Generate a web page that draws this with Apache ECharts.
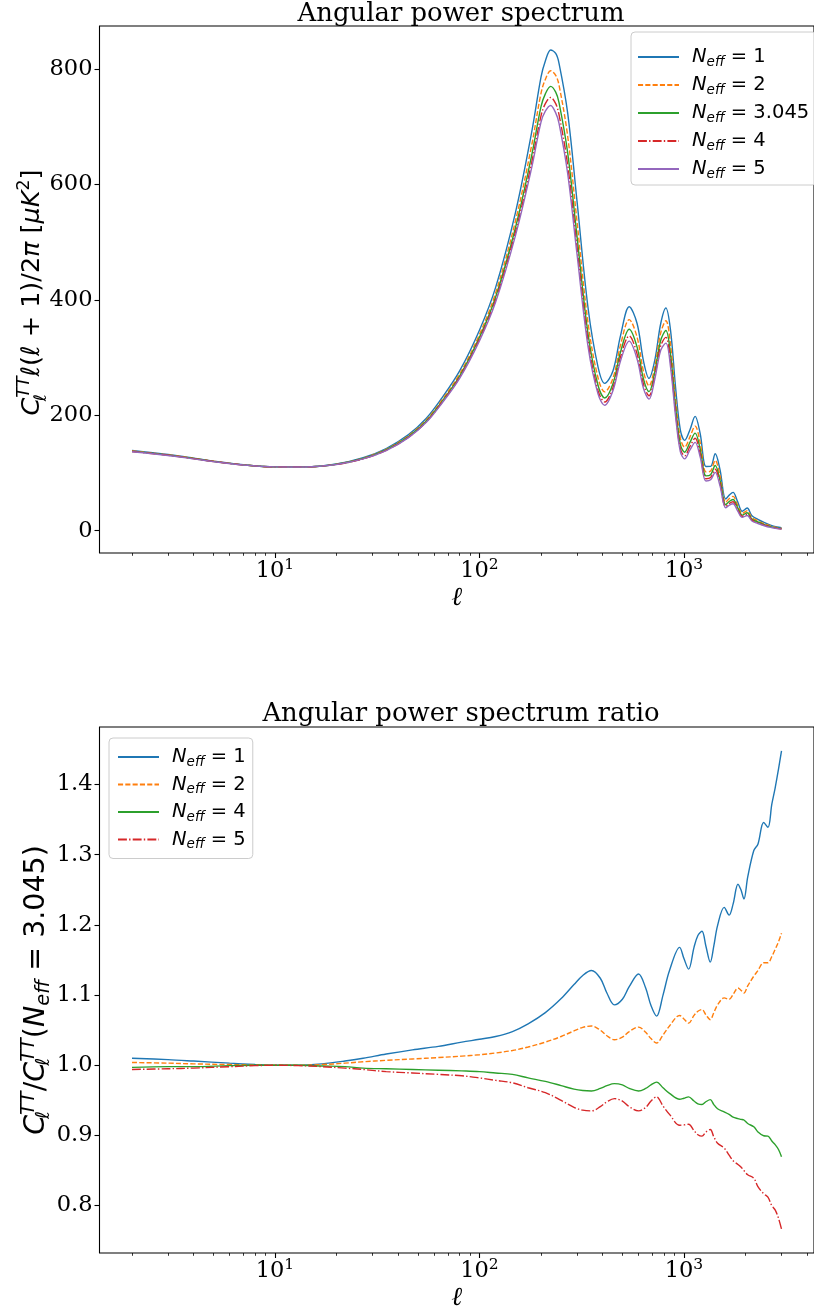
<!DOCTYPE html>
<html><head><meta charset="utf-8">
<script src="https://cdn.jsdelivr.net/npm/echarts@6/dist/echarts.min.js"></script>
<style>html,body{margin:0;padding:0;background:#fff}#c{width:814px;height:1312px}</style>
</head><body><div id="c"></div>
<script>
// ---------- top panel: D_ell for several N_eff ----------
const ellTop = [2,3,4,5,7,10,14,20,27,35,45,55,65,80,100,120,150,180,200,210,223,236,245,270,300,340,380,410,450,490,540,590,635,675,720,770,816,860,910,960,1008,1070,1134,1200,1282,1350,1422,1500,1600,1670,1738,1830,1928,2037,2150,2300,2450,2650,2850,3000];
const clNeff1 = [138.9,132.0,125.8,120.5,114.2,110.5,110.5,115.5,126.3,142.2,166.4,194.8,228.2,276.8,347.4,421.6,551.3,690.3,786,814,833.1,827,810,724,571,385,284,255.3,277.2,338.5,388.1,359.0,292.9,263.9,295.1,359.0,385.9,347.1,248.3,174.9,156.4,174.9,198.1,168.7,111.2,111.4,133.3,106.3,55.0,62.0,66.4,50.3,33.6,39.2,25.9,19.7,14.8,9.5,6.3,5.1];
const clNeff2 = [138.0,131.4,125.3,120.2,114.1,110.5,110.5,115.2,125.6,141.0,164.5,191.9,224.4,271.5,340.0,412.1,536.6,667.6,758,782,797.0,789,772,684,536,359,265,240.6,264.4,322.1,365.8,335.2,275.1,250.9,284.1,342.9,363.7,322.4,229.0,160.5,144.8,162.6,181.2,153.1,101.8,103.4,121.9,95.9,49.3,55.8,59.5,44.4,29.8,34.5,22.5,17.0,12.6,8.1,5.3,4.2];
const clNeff3045 = [137.5,131,125,120,114,110.5,110.5,115,125,140,163,190,222,268,335,405,525,650,735,757,770,760,742,655,510,340,252,230,255,310,349,318,262,241,275,330,347,305,215,150,136,153,169,142,95,97,113,88,45,51,54,40,27,31,20,15,11,7,4.5,3.5];
const clNeff4 = [137.1,130.7,124.8,119.9,114.0,110.5,110.5,114.8,124.5,139.3,162.0,188.7,220.4,265.9,332.0,400.5,517.7,637.7,719,740,750.8,740,721,634,492,328,243,222.9,248.2,301.3,337.5,306.4,253.1,233.8,268.1,320.4,334.9,292.5,205.3,142.8,129.6,146.0,160.2,134.0,90.1,92.2,106.4,82.4,42.0,47.4,50.0,37.0,24.9,28.5,18.3,13.6,9.9,6.3,4.0,3.0];
const clNeff5 = [136.7,130.3,124.5,119.6,113.9,110.5,110.4,114.7,124.3,138.7,161.2,187.7,219.1,264.0,329.0,396.3,511.4,628.6,708,727,736.9,724,706,619,479,318,237,217.4,242.8,294.5,328.4,297.3,245.8,228.0,262.4,312.5,325.1,283.3,198.0,137.2,124.4,139.8,153.1,127.8,86.0,88.1,101.1,78.0,39.6,44.4,46.7,34.4,23.0,26.2,16.8,12.4,9.0,5.6,3.5,2.7];

// ---------- bottom panel: ratio to N_eff = 3.045 ----------
const ellRatio = [2,3,4,6,8,10,13,17,22,27,35,47,63,82,100,120,145,173,210,251,290,320,353,390,420,457,500,540,600,650,690,735,790,850,953,1000,1054,1120,1170,1225,1280,1345,1400,1460,1573,1663,1740,1837,1900,1965,2050,2196,2300,2454,2575,2690,2792,2900,3000];
const ratioNeff1 = [1.010,1.008,1.006,1.003,1.001,1.000,1.000,1.002,1.006,1.010,1.016,1.022,1.027,1.033,1.037,1.041,1.048,1.059,1.075,1.095,1.115,1.128,1.135,1.124,1.103,1.086,1.094,1.112,1.130,1.110,1.085,1.070,1.100,1.135,1.168,1.152,1.137,1.168,1.185,1.191,1.170,1.147,1.170,1.199,1.225,1.214,1.230,1.258,1.250,1.237,1.268,1.306,1.315,1.346,1.339,1.372,1.395,1.422,1.448];
const ratioNeff2 = [1.004,1.003,1.002,1.001,1.0005,1.000,1.000,1.001,1.003,1.005,1.007,1.009,1.011,1.013,1.015,1.0175,1.021,1.026,1.033,1.041,1.049,1.054,1.056,1.050,1.042,1.0364,1.040,1.048,1.0544,1.047,1.038,1.0317,1.043,1.056,1.071,1.066,1.060,1.071,1.077,1.0795,1.072,1.065,1.075,1.086,1.096,1.094,1.101,1.110,1.107,1.103,1.113,1.127,1.135,1.146,1.146,1.155,1.165,1.176,1.188];
const ratioNeff4 = [0.997,0.998,0.998,0.9995,1.000,1.000,1.000,0.999,0.998,0.996,0.995,0.994,0.993,0.992,0.991,0.989,0.987,0.982,0.977,0.971,0.966,0.964,0.9634,0.967,0.971,0.9738,0.972,0.967,0.9634,0.967,0.972,0.976,0.968,0.960,0.9515,0.953,0.955,0.949,0.945,0.944,0.948,0.951,0.944,0.938,0.9336,0.930,0.926,0.924,0.923,0.922,0.917,0.9123,0.905,0.8995,0.899,0.892,0.887,0.880,0.8696];
const ratioNeff5 = [0.994,0.995,0.996,0.998,0.9995,1.000,0.9995,0.998,0.996,0.994,0.991,0.989,0.987,0.985,0.982,0.9785,0.975,0.968,0.961,0.950,0.940,0.936,0.935,0.941,0.948,0.9525,0.949,0.941,0.935,0.940,0.949,0.955,0.942,0.930,0.9146,0.915,0.916,0.907,0.901,0.899,0.905,0.9084,0.898,0.889,0.882,0.872,0.864,0.8587,0.855,0.850,0.844,0.839,0.827,0.817,0.812,0.800,0.794,0.782,0.7666];

// tick values
const xMajorTicks = [10, 100, 1000];
const xMinorTicks = [2,3,4,5,6,7,8,9,20,30,40,50,60,70,80,90,200,300,400,500,600,700,800,900,2000,3000,4000];
const yTopTicks = [0, 200, 400, 600, 800];
const yBotTicks = [0.8, 0.9, 1.0, 1.1, 1.2, 1.3, 1.4];
const topLabels = ['1', '2', '3.045', '4', '5'];
const botLabels = ['1', '2', '4', '5'];

const C = {blue:'#1f77b4', orange:'#ff7f0e', green:'#2ca02c', red:'#d62728', purple:'#9467bd'};
const DASH = [5.1, 2.2];
const DASHDOT = [8.9, 2.2, 1.4, 2.2];

const GL = 99.5, GW = 723.5;
const grids = [
  {left: GL, top: 26, width: GW, height: 527},
  {left: GL, top: 727, width: GW, height: 530}
];
grids.forEach(g => { g.show = true; g.borderColor = '#000'; g.borderWidth = 1.1; g.backgroundColor = 'transparent'; });

const serif = 'DejaVu Serif', sans = 'DejaVu Sans';
const tickRich = { s: {fontFamily: serif, fontSize: 15.5, lineHeight: 14, verticalAlign: 'top', color: '#000'} };

function mainX(gi) {
  return {
    type: 'log', logBase: 10, gridIndex: gi, min: 1.387, max: 4325, position: 'bottom',
    axisLine: {show: false, onZero: false},
    splitLine: {show: false},
    axisTick: {show: true, customValues: xMajorTicks, length: 5, inside: false, lineStyle: {color: '#000', width: 1.1}},
    axisLabel: {customValues: xMajorTicks, margin: 4, fontFamily: serif, fontSize: 22.5, lineHeight: 28, color: '#000',
      formatter: v => '10{s|' + Math.round(Math.log10(v)) + '}', rich: tickRich},
    name: 'ℓ', nameLocation: 'middle', nameGap: 32, nameMoveOverlap: false,
    nameTextStyle: {fontFamily: serif, fontStyle: 'italic', fontSize: 26, color: '#000'}
  };
}
function minorX(gi) {
  return {
    type: 'log', logBase: 10, gridIndex: gi, min: 1.387, max: 4325, position: 'bottom',
    axisLine: {show: false, onZero: false}, splitLine: {show: false}, axisLabel: {show: false},
    axisTick: {show: true, customValues: xMinorTicks, length: 2.8, lineStyle: {color: '#000', width: 0.8}}
  };
}

function mkRich(fs) {
  const sfs = fs * 0.68;
  return {
    i: {fontFamily: sans, fontStyle: 'italic', fontSize: fs, lineHeight: 34, color: '#000'},
    r: {fontFamily: sans, fontSize: fs, lineHeight: 34, color: '#000'},
    sb: {fontFamily: sans, fontStyle: 'italic', fontSize: sfs, lineHeight: 18, verticalAlign: 'bottom', width: 0, color: '#000'},
    sb2: {fontFamily: sans, fontStyle: 'italic', fontSize: sfs, lineHeight: 18, verticalAlign: 'bottom', color: '#000'},
    sp: {fontFamily: sans, fontStyle: 'italic', fontSize: sfs, lineHeight: 18, verticalAlign: 'top', color: '#000'},
    sp2: {fontFamily: sans, fontSize: sfs, lineHeight: 18, verticalAlign: 'top', color: '#000'}
  };
}
const yNameTop = '{i|C}{sb|ℓ}{sp|TT}{i|ℓ}{r|(}{i|ℓ}{r| + 1)/2}{i|π}{r| [}{i|μK}{sp2|2}{r|]}';
const yNameBot = '{i|C}{sb|ℓ}{sp|TT}{r|/}{i|C}{sb|ℓ}{sp|TT}{r|(}{i|N}{sb2|eff}{r| = 3.045)}';

function yAx(gi, min, max, ticks, fmt, name, gap, fs, pad) {
  return {
    type: 'value', gridIndex: gi, min, max, position: 'left',
    axisLine: {show: false, onZero: false}, splitLine: {show: false},
    axisTick: {show: true, customValues: ticks, length: 5, lineStyle: {color: '#000', width: 1.1}},
    axisLabel: {customValues: ticks, margin: 7, fontFamily: serif, fontSize: 22.5, color: '#000', formatter: fmt},
    name, nameLocation: 'middle', nameRotate: 90, nameGap: gap, nameMoveOverlap: false,
    nameTextStyle: {rich: mkRich(fs), fontFamily: sans, fontSize: fs, color: '#000', padding: pad}
  };
}

function line(name, L, V, color, type, xi, yi) {
  return {
    type: 'line', name, xAxisIndex: xi, yAxisIndex: yi,
    data: L.map((l, k) => [l, V[k]]),
    symbol: 'none', showSymbol: false, smooth: 0.35, animation: false,
    lineStyle: {color, width: 1.4, type}, itemStyle: {color},
    emphasis: {disabled: true}
  };
}

const legRich = {
  n: {fontFamily: sans, fontStyle: 'italic', fontSize: 19.5, lineHeight: 24, color: '#000'},
  s: {fontFamily: sans, fontStyle: 'italic', fontSize: 13.5, lineHeight: 13, verticalAlign: 'bottom', color: '#000'},
  t: {fontFamily: sans, fontSize: 19.5, lineHeight: 24, color: '#000'}
};
function legend(names, labels, left, top, padding, gap) {
  return {
    data: names, orient: 'vertical', left, top, padding,
    itemWidth: 41, itemHeight: 14, itemGap: gap,
    backgroundColor: 'rgba(255,255,255,0.8)', borderColor: '#cccccc', borderWidth: 1, borderRadius: 4,
    itemStyle: {opacity: 0}, selectedMode: false,
    textStyle: {rich: legRich, padding: [0, 0, 0, 8]},
    formatter: nm => '{n|N}{s|eff}{t| = ' + labels[names.indexOf(nm)] + '}'
  };
}

const topNames = ['t1', 't2', 't3', 't4', 't5'];
const botNames = ['b1', 'b2', 'b4', 'b5'];

const option = {
  animation: false,
  backgroundColor: '#fff',
  title: [
    {text: 'Angular power spectrum', left: 461, top: 1, textAlign: 'center', padding: 0,
     textStyle: {fontFamily: serif, fontSize: 25.9, fontWeight: 'normal', color: '#000'}},
    {text: 'Angular power spectrum ratio', left: 461, top: 701, textAlign: 'center', padding: 0,
     textStyle: {fontFamily: serif, fontSize: 25.9, fontWeight: 'normal', color: '#000'}}
  ],
  grid: grids,
  xAxis: [mainX(0), minorX(0), mainX(1), minorX(1)],
  yAxis: [
    yAx(0, -38.7, 874.6, yTopTicks, v => String(Math.round(v)), yNameTop, 50, 25.5, [0, 6, 0, 0]),
    yAx(1, 0.7325, 1.482, yBotTicks, v => v.toFixed(1), yNameBot, 46, 28.5, [0, 0, 0, 0])
  ],
  legend: [
    legend(topNames, topLabels, 631, 32, [15, 7, 4, 6], 6),
    legend(botNames, botLabels, 109, 738, [9, 7, 7, 8], 5.5)
  ],
  series: [
    line('t1', ellTop, clNeff1, C.blue, 'solid', 0, 0),
    line('t2', ellTop, clNeff2, C.orange, DASH, 0, 0),
    line('t3', ellTop, clNeff3045, C.green, 'solid', 0, 0),
    line('t4', ellTop, clNeff4, C.red, DASHDOT, 0, 0),
    line('t5', ellTop, clNeff5, C.purple, 'solid', 0, 0),
    line('b1', ellRatio, ratioNeff1, C.blue, 'solid', 2, 1),
    line('b2', ellRatio, ratioNeff2, C.orange, DASH, 2, 1),
    line('b4', ellRatio, ratioNeff4, C.green, 'solid', 2, 1),
    line('b5', ellRatio, ratioNeff5, C.red, DASHDOT, 2, 1)
  ]
};
const chart = echarts.init(document.getElementById('c'), null, {renderer: 'canvas'});
chart.setOption(option);
</script>
</body></html>
